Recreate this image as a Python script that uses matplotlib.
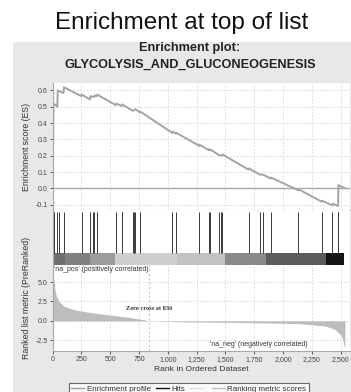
import matplotlib
matplotlib.use("Agg")
import matplotlib.pyplot as plt
from matplotlib.lines import Line2D
from matplotlib.patches import Rectangle
from matplotlib.ticker import StrMethodFormatter

plt.rcParams['font.family'] = ['Liberation Sans', 'DejaVu Sans']

# running enrichment score (rank, ES)
es_rank = [0, 9, 42, 45, 95, 100, 250, 253, 326, 330, 363, 365, 384, 388,
           549, 552, 601, 606, 696, 720, 760, 763, 1039, 1043, 1072, 1075,
           1274, 1277, 1353, 1356, 1370, 1373, 1440, 1469, 1473, 1700, 1703,
           1801, 1823, 1892, 1895, 2131, 2134, 2335, 2338, 2428, 2431, 2476,
           2480, 2507, 2536]
es_value = [0.0, 0.52, 0.50, 0.60, 0.585, 0.62, 0.565, 0.575, 0.545, 0.565,
            0.56, 0.57, 0.565, 0.575, 0.51, 0.52, 0.505, 0.515, 0.475, 0.485,
            0.465, 0.47, 0.34, 0.348, 0.335, 0.34, 0.26, 0.267, 0.235, 0.24,
            0.232, 0.237, 0.205, 0.20, 0.208, 0.115, 0.122, 0.083, 0.085,
            0.06, 0.066, -0.012, -0.006, -0.082, -0.076, -0.105, -0.095,
            -0.108, 0.02, 0.01, 0.0]

# gene set members in the ranked list
hits = [9, 12, 42, 59, 100, 253, 326, 349, 363, 384, 549, 601, 604, 606, 696,
        707, 719, 760, 1039, 1072, 1274, 1353, 1370, 1440, 1461, 1469, 1700,
        1801, 1823, 1892, 2131, 2335, 2428, 2476, 2478, 2480]

# colour bar under the hits
bar_edges = [0, 109, 326, 543, 1081, 1497, 1853, 2374, 2530]
bar_grays = ['#6e6e6e', '#808080', '#9c9c9c', '#cfcfcf', '#c2c2c2',
             '#8a8a8a', '#5c5c5c', '#161616']

# ranked list metric (rank, value)
metric_rank = [0, 19, 33, 62, 105, 192, 308, 482, 655, 800, 836, 1118, 1697,
               2131, 2362, 2449, 2507, 2530, 2536]
metric_value = [7.0, 4.2, 3.15, 2.4, 1.85, 1.42, 1.12, 0.78, 0.47, 0.13, 0.0,
                -0.13, -0.22, -0.35, -0.65, -1.09, -1.94, -3.24, -3.5]
zero_cross = 836

es_ticks = [-0.1, 0.0, 0.1, 0.2, 0.3, 0.4, 0.5, 0.6]
metric_ticks = [-2.5, 0.0, 2.5, 5.0]
rank_ticks = [0, 250, 500, 750, 1000, 1250, 1500, 1750, 2000, 2250, 2500]

W, H = 351, 392
fig = plt.figure(figsize=(W / 100, H / 100), dpi=100)
fig.patch.set_facecolor('white')

def fx(px):
    return px / W

def fy(py):
    return 1 - py / H

# grey panel behind the GSEA plot
fig.patches.append(Rectangle((fx(13), 0), 1 - fx(13), fy(41.7), transform=fig.transFigure,
                             facecolor='#e8e8e8', edgecolor='none', zorder=-5))

fig.text(0.517, fy(23), 'Enrichment at top of list', ha='center', va='center',
         fontsize=17.5, color='#111111')
fig.text(0.541, fy(48), 'Enrichment plot:', ha='center', va='center',
         fontsize=9.2, fontweight='bold', color='#222222')
fig.text(0.541, fy(65), 'GLYCOLYSIS_AND_GLUCONEOGENESIS', ha='center', va='center',
         fontsize=9.2, fontweight='bold', color='#222222')

left, right = fx(52.5), fx(350)
xmax = 2580
ax_es = fig.add_axes([left, fy(210), right - left, fy(83) - fy(210)])
ax_hit = fig.add_axes([left, fy(265.3), right - left, fy(210) - fy(265.3)])
ax_m = fig.add_axes([left, fy(351.3), right - left, fy(265.3) - fy(351.3)])

spine_col = '#a8a8a8'
grid_kw = dict(color='#d4d4d4', linestyle=(0, (2, 2)), linewidth=0.6)

# ---- enrichment score
ax_es.plot(es_rank, es_value, color='#a4a4a4', linewidth=1.4, zorder=3)
ax_es.axhline(0, color='#a8a8a8', linewidth=1.0, zorder=2)
ax_es.set_xlim(0, xmax)
ax_es.set_ylim(-0.133, 0.646)
ax_es.set_yticks(es_ticks)
ax_es.set_yticklabels([f'{t:.1f}' for t in es_ticks])
ax_es.set_xticks(rank_ticks)
ax_es.tick_params(axis='x', length=0, labelbottom=False)
ax_es.grid(True, **grid_kw)
ax_es.set_ylabel('Enrichment score (ES)', fontsize=6.3, color='#333333')
ax_es.yaxis.set_label_coords(-0.072, 0.5)

# ---- hits
ax_hit.set_xlim(0, xmax)
ax_hit.set_ylim(0, 1)
bar_lo = 0.218
ax_hit.vlines(hits, bar_lo, 0.964, color='#3a3a3a', linewidth=0.7)
for i in range(len(bar_grays)):
    ax_hit.add_patch(Rectangle((bar_edges[i], 0), bar_edges[i + 1] - bar_edges[i], bar_lo,
                               facecolor=bar_grays[i], edgecolor='none'))
ax_hit.set_xticks([])
ax_hit.set_yticks([])

# ---- ranked list metric
ax_m.fill_between(metric_rank, 0, metric_value, color='#bdbdbd', linewidth=0, zorder=2)
ax_m.axvline(zero_cross, color='#c4c4c4', linestyle=(0, (2, 2)), linewidth=0.8, zorder=3)
ax_m.set_xlim(0, xmax)
ax_m.set_ylim(-3.92, 7.16)
ax_m.set_yticks(metric_ticks)
ax_m.set_yticklabels([f'{t:.1f}' for t in metric_ticks])
ax_m.set_xticks(rank_ticks)
ax_m.xaxis.set_major_formatter(StrMethodFormatter('{x:,.0f}'))
ax_m.grid(True, **grid_kw)
ax_m.set_xlabel('Rank in Ordered Dataset', fontsize=6.1, color='#333333', labelpad=2)
ax_m.set_ylabel('Ranked list metric (PreRanked)', fontsize=6.3, color='#333333')
ax_m.yaxis.set_label_coords(-0.072, 0.62)
ax_m.text(zero_cross, 1.63, f'Zero cross at {zero_cross}', ha='center', va='center',
          fontsize=4.6, family='Liberation Serif', fontweight='bold', color='#333333')
ax_m.text(15, 7.1, "'na_pos' (positively correlated)", ha='left', va='top',
          fontsize=5.0, color='#333333')
ax_m.text(1785, -3.05, "'na_neg' (negatively correlated)", ha='center', va='center',
          fontsize=5.0, color='#333333')

for ax in (ax_es, ax_hit, ax_m):
    ax.set_facecolor('white')
    for s in ('top', 'right'):
        ax.spines[s].set_visible(False)
    for s in ('left', 'bottom'):
        ax.spines[s].set_color(spine_col)
        ax.spines[s].set_linewidth(0.8)
    ax.tick_params(labelsize=5, colors='#444444', length=2, width=0.6, pad=1.5)
    ax.set_axisbelow(True)
ax_hit.spines['bottom'].set_visible(False)

handles = [Line2D([], [], color='#a0a0a0', linewidth=1),
           Line2D([], [], color='#111111', linewidth=1),
           Line2D([], [], color='#dddddd', linewidth=1),
           Line2D([], [], color='#c0c0c0', linewidth=1)]
labels = ['Enrichment profile', 'Hits', ' ', 'Ranking metric scores']
leg = fig.legend(handles, labels, loc='upper center', bbox_to_anchor=(0.538, fy(379)),
                 ncol=4, fontsize=5.8, frameon=True, fancybox=False, handlelength=1.6,
                 handletextpad=0.3, columnspacing=0.6, borderpad=0.3)
leg.get_frame().set_edgecolor('#444444')
leg.get_frame().set_linewidth(0.8)
for t in leg.get_texts():
    t.set_color('#333333')

fig.savefig('out.png', dpi=100)
